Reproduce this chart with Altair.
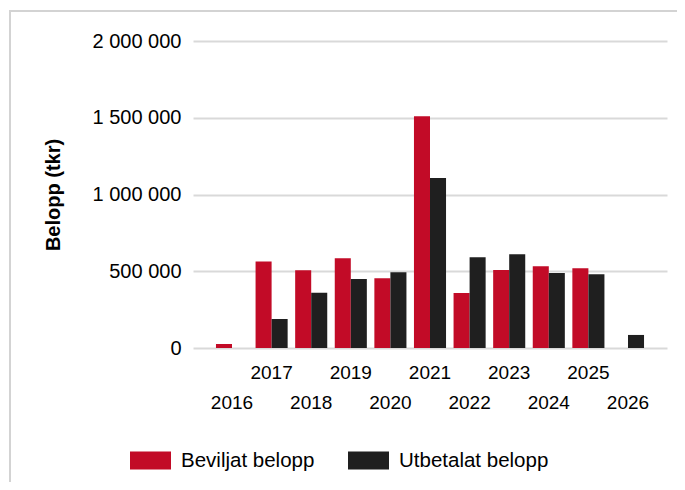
import altair as alt
import pandas as pd

years = ["2016", "2017", "2018", "2019", "2020", "2021", "2022", "2023", "2024", "2025", "2026"]
beviljat = [26000, 563000, 506000, 584000, 455000, 1510000, 359000, 508000, 532000, 519000, None]
utbetalat = [None, 189000, 360000, 450000, 493000, 1107000, 592000, 610000, 489000, 481000, 85000]
series = ["Beviljat belopp", "Utbetalat belopp"]
colors = ["#C20B27", "#1F1F1F"]
y_ticks = [0, 500000, 1000000, 1500000, 2000000]

rows = []
for yr, b, u in zip(years, beviljat, utbetalat):
    if b is not None:
        rows.append({"År": yr, "Serie": series[0], "Belopp": b})
    if u is not None:
        rows.append({"År": yr, "Serie": series[1], "Belopp": u})
df = pd.DataFrame(rows)

FONT = "Liberation Sans"

bars = alt.Chart(df).mark_bar().encode(
    x=alt.X(
        "År:N",
        sort=years,
        scale=alt.Scale(domain=years, paddingInner=0.19, paddingOuter=0.58),
        axis=alt.Axis(
            title=None, domain=False, ticks=False, grid=False, labelAngle=0,
            labelFont=FONT, labelFontSize=19, labelColor="#000000",
            labelPadding=15, labelLineHeight=30,
            labelExpr="toNumber(datum.value) % 2 == 0 ? ['', datum.label] : datum.label",
        ),
    ),
    xOffset=alt.XOffset("Serie:N", scale=alt.Scale(domain=series, paddingInner=0, paddingOuter=0)),
    y=alt.Y(
        "Belopp:Q",
        scale=alt.Scale(domain=[0, 2000000]),
        axis=alt.Axis(
            values=y_ticks, format=",d", title="Belopp (tkr)",
            domain=False, ticks=False, labelPadding=12,
            labelFont=FONT, labelFontSize=20, labelColor="#000000",
            titleFont=FONT, titleFontSize=20, titleFontWeight="bold", titleColor="#000000",
            titlePadding=29,
            gridColor="#D9D9D9", gridWidth=2,
        ),
    ),
    color=alt.Color(
        "Serie:N",
        scale=alt.Scale(domain=series, range=colors),
        legend=alt.Legend(
            title=None, orient="none", direction="horizontal",
            legendX=-63, legendY=399,
            symbolType="M-1,-0.44H1V0.44H-1Z", symbolSize=1681, symbolStrokeWidth=0,
            labelFont=FONT, labelFontSize=20.5, labelColor="#000000",
            labelOffset=10, columnPadding=33, padding=0,
        ),
    ),
)

border_left = alt.Chart(alt.Data(values=[{}])).mark_rule(color="#D3D3D3", strokeWidth=2).encode(
    x=alt.value(-183), y=alt.value(-30), y2=alt.value(460)
)
border_top = alt.Chart(alt.Data(values=[{}])).mark_rule(color="#D3D3D3", strokeWidth=2).encode(
    x=alt.value(-184), x2=alt.value(520), y=alt.value(-30)
)

chart = alt.layer(bars, border_left, border_top).properties(
    width=474, height=307,
    autosize=alt.AutoSizeParams(type="none"),
    padding={"left": 185, "top": 33, "right": 10, "bottom": 134},
).configure(
    font=FONT,
    locale={"number": {"decimal": ",", "thousands": " ", "grouping": [3], "currency": ["", " kr"]}},
).configure_view(stroke=None)

chart.save("out.html", embed_options={"renderer": "svg", "actions": False})
